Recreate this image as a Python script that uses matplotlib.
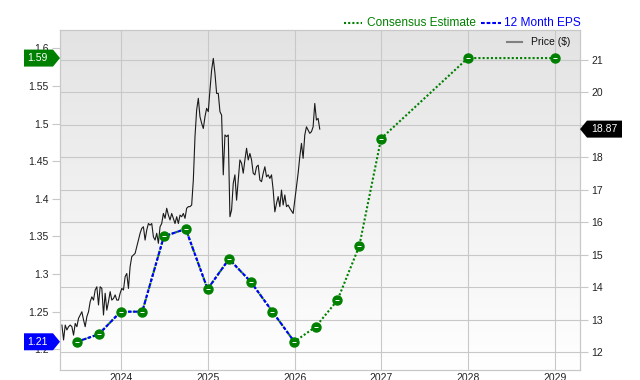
import numpy as np
import pandas as pd
import matplotlib
matplotlib.use("Agg")
import matplotlib.pyplot as plt
import matplotlib.dates as mdates
from matplotlib.colors import LinearSegmentedColormap
from matplotlib.patches import Polygon
from matplotlib.lines import Line2D

plt.rcParams['font.family'] = ['Liberation Sans', 'DejaVu Sans']

# trailing 12 month EPS (reported)
eps_dates = pd.to_datetime(["2023-06-30", "2023-09-30", "2023-12-31", "2024-03-31",
                            "2024-06-30", "2024-09-30", "2024-12-31", "2025-03-31",
                            "2025-06-30", "2025-09-30", "2025-12-31"])
eps_vals = [1.21, 1.22, 1.25, 1.25, 1.35, 1.36, 1.28, 1.32, 1.29, 1.25, 1.21]

# consensus estimates (continue from last reported quarter)
est_dates = pd.to_datetime(["2026-03-31", "2026-06-30", "2026-09-30", "2026-12-31",
                            "2027-12-31", "2028-12-31"])
est_vals = [1.23, 1.265, 1.337, 1.48, 1.587, 1.587]

# weekly price ($)
price_vals = [
    12.83, 12.37, 12.83, 12.68, 12.78, 12.83, 12.78, 12.52, 12.88, 12.78,
    13.04, 13.14, 13.24, 12.99, 12.78, 13.09, 13.24, 13.55, 13.70, 13.60,
    13.91, 14.01, 13.45, 14.01, 13.96, 13.14, 13.81, 13.29, 13.55, 13.86,
    13.60, 13.65, 13.76, 13.60, 13.60, 13.81, 13.96, 13.91, 14.32, 14.42,
    13.96, 14.63, 14.94, 14.99, 15.04, 15.24, 15.45, 15.66, 15.81, 15.86,
    15.45, 15.76, 15.96, 15.91, 15.96, 15.55, 15.45, 15.66, 15.35, 15.86,
    15.96, 16.27, 16.12, 16.43, 16.22, 16.07, 16.27, 16.12, 15.96, 16.17,
    15.96, 16.22, 16.17, 16.27, 16.12, 16.43, 16.48, 16.48, 16.53,
    17.30, 18.64, 19.46, 19.82, 19.25, 19.05, 18.89, 19.25, 19.51, 19.41,
    20.08, 20.69, 21.05, 20.59, 19.97, 19.97, 19.41, 19.30, 17.46, 18.69,
    18.64, 18.69, 16.17, 16.38, 17.20, 17.46, 16.68, 17.30, 17.92, 17.82,
    17.51, 17.92, 18.28, 17.92, 18.12, 17.92, 17.51, 17.46, 17.71, 17.76,
    17.30, 17.25, 17.51, 17.71, 17.40, 17.46, 17.35, 17.46, 16.99, 16.32,
    16.58, 16.79, 16.48, 16.99, 16.53, 16.84, 16.48, 16.53, 16.43, 16.35,
    16.27, 16.68, 17.10, 17.51, 18.02, 18.43, 17.97, 18.69, 18.94, 18.84,
    18.74, 18.79, 18.94, 19.66, 19.15, 19.20, 18.87,
]
price_dates = pd.date_range("2023-04-28", periods=len(price_vals), freq="7D")

eps_ticks = [1.2, 1.25, 1.3, 1.35, 1.4, 1.45, 1.5, 1.55, 1.6]
price_ticks = list(range(12, 22))

green = '#008000'
blue = '#0000ff'
grid_c = '#c8c8c8'

fig = plt.figure(figsize=(6.4, 3.8), dpi=100)
W, H = 640, 380
ax = fig.add_axes([60 / W, 10 / H, 520 / W, 340 / H])  # price axis (right)
ax2 = ax.twinx()                                         # EPS axis (left)

# background gradient
cmap = LinearSegmentedColormap.from_list('bg', ['#e3e3e3', '#ffffff'])
ax.imshow(np.linspace(0, 1, 256).reshape(-1, 1), cmap=cmap, extent=[0, 1, 0, 1],
          transform=ax.transAxes, aspect='auto', zorder=0)

ax.plot(price_dates, price_vals, color='#1a1a1a', lw=0.8, zorder=2)

# consensus line runs through all points, EPS dashes on top
all_dates = eps_dates.append(est_dates)
all_vals = eps_vals + est_vals
ax2.plot(all_dates, all_vals, color=green, lw=1.5, ls=(0, (1, 1)), zorder=2)
ax2.plot(eps_dates, eps_vals, color=blue, lw=1.5, ls=(0, (1.8, 0.9)), zorder=3)
ax2.plot(all_dates, all_vals, 'o', color=green, ms=6.5, mec=green, zorder=4)
ax2.plot(all_dates, all_vals, '_', color='white', ms=3, mew=0.7, zorder=5)

ax.set_xlim(pd.Timestamp("2023-04-20"), pd.Timestamp("2029-04-16"))
ax.set_ylim(11.445, 21.925)
ax2.set_ylim(1.1725, 1.6243)

ax.yaxis.tick_right()
ax2.yaxis.tick_left()
ax.set_yticks(price_ticks)
ax.set_yticklabels([str(t) for t in price_ticks])
ax2.set_yticks(eps_ticks)
ax2.set_yticklabels(['%g' % t for t in eps_ticks])
ax.xaxis.set_major_locator(mdates.YearLocator())
ax.xaxis.set_major_formatter(mdates.DateFormatter('%Y'))

ax.grid(True, color=grid_c, lw=0.8)
ax.set_axisbelow(True)
ax.tick_params(axis='x', length=0, pad=2, labelsize=7.5, colors='#222222')
ax.tick_params(axis='y', length=6, pad=2, labelsize=7.5, color=grid_c, labelcolor='#222222')
ax2.tick_params(axis='y', length=6, pad=2, labelsize=7.5, color=grid_c, labelcolor='#222222')
for a in (ax, ax2):
    for s in a.spines.values():
        s.set_color(grid_c)
        s.set_linewidth(0.8)

# legends
fy = 1 - 23 / H
fig.add_artist(Line2D([344 / W, 362 / W], [fy, fy], color=green, lw=1.5, ls=(0, (1, 1))))
fig.text(367 / W, fy, "Consensus Estimate", color=green, fontsize=8.6, va='center')
fig.add_artist(Line2D([481 / W, 501 / W], [fy, fy], color=blue, lw=1.5, ls=(0, (1.8, 0.9))))
fig.text(504 / W, fy, "12 Month EPS", color=blue, fontsize=8.6, va='center')
py = 1 - 42 / H
fig.add_artist(Line2D([507 / W, 522 / W], [py, py], color='#808080', lw=1.5))
fig.text(531 / W, py, "Price ($)", color='#111111', fontsize=7.5, va='center')

# value tags
inv = fig.transFigure.inverted()


def tag(tip_x, tip_y, text, color, pointing):
    h = 8.5
    if pointing == 'right':
        pts = [(tip_x - 36, tip_y + h), (tip_x - 7, tip_y + h), (tip_x, tip_y),
               (tip_x - 7, tip_y - h), (tip_x - 36, tip_y - h)]
        tx = tip_x - 23
    else:
        pts = [(tip_x + 42, tip_y + h), (tip_x + 7, tip_y + h), (tip_x, tip_y),
               (tip_x + 7, tip_y - h), (tip_x + 42, tip_y - h)]
        tx = tip_x + 24
    fig.add_artist(Polygon(inv.transform(pts), closed=True, fc=color, ec='none',
                           transform=fig.transFigure, zorder=5))
    fig.text(*inv.transform((tx, tip_y)), text, color='white', fontsize=7.5,
             ha='center', va='center', zorder=6)


left_x = ax.transAxes.transform((0, 0))[0]
right_x = ax.transAxes.transform((1, 0))[0]
tag(left_x, ax2.transData.transform((0, est_vals[-1]))[1], '%.2f' % est_vals[-1], green, 'right')
tag(left_x, ax2.transData.transform((0, eps_vals[-1]))[1], '%.2f' % eps_vals[-1], blue, 'right')
tag(right_x, ax.transData.transform((0, price_vals[-1]))[1], '%.2f' % price_vals[-1], 'black', 'left')

fig.savefig("out.png", dpi=100)
